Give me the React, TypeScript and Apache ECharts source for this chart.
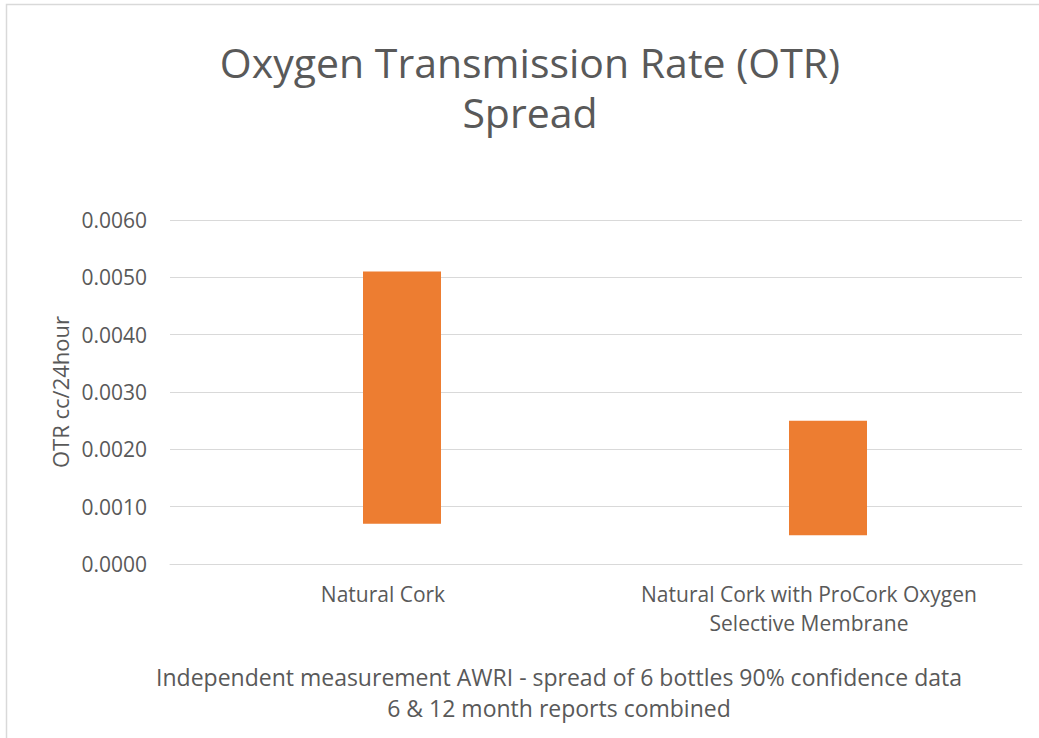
import React, { useEffect, useRef } from "react";
import * as echarts from "echarts";

const categories = [
  "Natural Cork",
  "Natural Cork with ProCork Oxygen\nSelective Membrane",
];
const lowValues = [0.0007, 0.0005];
const highValues = [0.0051, 0.0025];
const yTicks = { min: 0, max: 0.006, interval: 0.001 };
const titleText = "Oxygen Transmission Rate (OTR)\nSpread";
const yAxisName = "OTR cc/24hour";
const xAxisName =
  "Independent measurement AWRI - spread of 6 bottles 90% confidence data\n6 & 12 month reports combined";

const FONT = "'Open Sans', sans-serif";
const TEXT = "#595959";
const GRID = "#d9d9d9";

export default function App() {
  const ref = useRef<HTMLDivElement>(null);
  useEffect(() => {
    if (!ref.current) return;
    const chart = echarts.init(ref.current, undefined, { renderer: "svg" });
    const ranges = highValues.map((h, i) => +(h - lowValues[i]).toFixed(6));
    chart.setOption({
      animation: false,
      backgroundColor: "#ffffff",
      textStyle: { fontFamily: FONT },
      title: {
        text: titleText,
        left: 525,
        top: 32,
        textAlign: "center",
        textStyle: {
          fontFamily: FONT,
          fontSize: 41,
          fontWeight: "normal",
          color: TEXT,
          lineHeight: 50,
        },
      },
      graphic: [
        {
          type: "rect",
          shape: { x: 6.5, y: 4.5, width: 1100, height: 800 },
          style: { fill: "none", stroke: GRID, lineWidth: 1.5 },
          silent: true,
          z: -1,
        },
      ],
      grid: { left: 170, right: 17, top: 220, bottom: 174 },
      xAxis: {
        type: "category",
        data: categories,
        axisLine: { show: true, lineStyle: { color: GRID, width: 1 } },
        axisTick: { show: false },
        axisLabel: {
          color: TEXT,
          fontSize: 21,
          fontFamily: FONT,
          margin: 15,
          lineHeight: 29,
          interval: 0,
        },
        name: xAxisName,
        nameLocation: "middle",
        nameGap: 97,
        nameTextStyle: {
          color: TEXT,
          fontSize: 23,
          fontFamily: FONT,
          lineHeight: 31,
          padding: [0, 74, 0, 0],
        },
      },
      yAxis: {
        type: "value",
        min: yTicks.min,
        max: yTicks.max,
        interval: yTicks.interval,
        axisLine: { show: false },
        axisTick: { show: false },
        splitLine: { lineStyle: { color: GRID, width: 1 } },
        axisLabel: {
          color: TEXT,
          fontSize: 21,
          fontFamily: FONT,
          margin: 23,
          formatter: (v: number) => v.toFixed(4),
        },
        name: yAxisName,
        nameLocation: "middle",
        nameRotate: 90,
        nameGap: 98,
        nameTextStyle: { color: TEXT, fontSize: 22, fontFamily: FONT },
      },
      series: [
        {
          name: "offset",
          type: "bar",
          data: categories.map(() => 0),
          barWidth: 38,
          barGap: "0%",
          itemStyle: { color: "transparent" },
          silent: true,
        },
        {
          name: "low",
          type: "bar",
          stack: "spread",
          data: lowValues,
          barWidth: 78,
          barGap: "0%",
          itemStyle: { color: "transparent" },
          silent: true,
        },
        {
          name: "spread",
          type: "bar",
          stack: "spread",
          data: ranges,
          barWidth: 78,
          barGap: "0%",
          itemStyle: { color: "#ED7D31" },
        },
      ],
    });
    return () => chart.dispose();
  }, []);
  return (
    <div
      ref={ref}
      style={{ position: "absolute", left: 0, top: 0, width: 1039, height: 738 }}
    />
  );
}
